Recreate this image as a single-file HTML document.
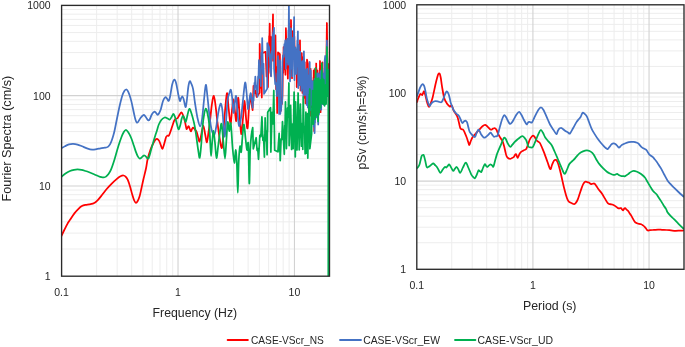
<!DOCTYPE html>
<html lang="en">
<head>
<meta charset="utf-8">
<title>Fourier spectra and pSv</title>
<style>
html,body{margin:0;padding:0;background:#ffffff;}
body{width:685px;height:347px;overflow:hidden;font-family:"Liberation Sans",sans-serif;}
svg{display:block;will-change:transform;}
text{font-family:"Liberation Sans",sans-serif;}
</style>
</head>
<body>
<svg width="685" height="347" viewBox="0 0 685 347" font-family="Liberation Sans, sans-serif">
<defs>
<clipPath id="clipL"><rect x="61.6" y="5.4" width="267.90" height="270.80"/></clipPath>
<clipPath id="clipR"><rect x="416.8" y="4.8" width="267.20" height="264.50"/></clipPath>
</defs>
<rect width="685" height="347" fill="#ffffff"/>
<line x1="96.65" x2="96.65" y1="5.40" y2="276.20" stroke="#ededed" stroke-width="1"/>
<line x1="117.15" x2="117.15" y1="5.40" y2="276.20" stroke="#ededed" stroke-width="1"/>
<line x1="131.70" x2="131.70" y1="5.40" y2="276.20" stroke="#ededed" stroke-width="1"/>
<line x1="142.98" x2="142.98" y1="5.40" y2="276.20" stroke="#ededed" stroke-width="1"/>
<line x1="152.20" x2="152.20" y1="5.40" y2="276.20" stroke="#ededed" stroke-width="1"/>
<line x1="159.99" x2="159.99" y1="5.40" y2="276.20" stroke="#ededed" stroke-width="1"/>
<line x1="166.74" x2="166.74" y1="5.40" y2="276.20" stroke="#ededed" stroke-width="1"/>
<line x1="172.70" x2="172.70" y1="5.40" y2="276.20" stroke="#ededed" stroke-width="1"/>
<line x1="213.07" x2="213.07" y1="5.40" y2="276.20" stroke="#ededed" stroke-width="1"/>
<line x1="233.58" x2="233.58" y1="5.40" y2="276.20" stroke="#ededed" stroke-width="1"/>
<line x1="248.12" x2="248.12" y1="5.40" y2="276.20" stroke="#ededed" stroke-width="1"/>
<line x1="259.40" x2="259.40" y1="5.40" y2="276.20" stroke="#ededed" stroke-width="1"/>
<line x1="268.62" x2="268.62" y1="5.40" y2="276.20" stroke="#ededed" stroke-width="1"/>
<line x1="276.42" x2="276.42" y1="5.40" y2="276.20" stroke="#ededed" stroke-width="1"/>
<line x1="283.17" x2="283.17" y1="5.40" y2="276.20" stroke="#ededed" stroke-width="1"/>
<line x1="289.12" x2="289.12" y1="5.40" y2="276.20" stroke="#ededed" stroke-width="1"/>
<line x1="61.60" x2="329.50" y1="249.03" y2="249.03" stroke="#ededed" stroke-width="1"/>
<line x1="61.60" x2="329.50" y1="233.13" y2="233.13" stroke="#ededed" stroke-width="1"/>
<line x1="61.60" x2="329.50" y1="221.85" y2="221.85" stroke="#ededed" stroke-width="1"/>
<line x1="61.60" x2="329.50" y1="213.11" y2="213.11" stroke="#ededed" stroke-width="1"/>
<line x1="61.60" x2="329.50" y1="205.96" y2="205.96" stroke="#ededed" stroke-width="1"/>
<line x1="61.60" x2="329.50" y1="199.92" y2="199.92" stroke="#ededed" stroke-width="1"/>
<line x1="61.60" x2="329.50" y1="194.68" y2="194.68" stroke="#ededed" stroke-width="1"/>
<line x1="61.60" x2="329.50" y1="190.06" y2="190.06" stroke="#ededed" stroke-width="1"/>
<line x1="61.60" x2="329.50" y1="158.76" y2="158.76" stroke="#ededed" stroke-width="1"/>
<line x1="61.60" x2="329.50" y1="142.87" y2="142.87" stroke="#ededed" stroke-width="1"/>
<line x1="61.60" x2="329.50" y1="131.59" y2="131.59" stroke="#ededed" stroke-width="1"/>
<line x1="61.60" x2="329.50" y1="122.84" y2="122.84" stroke="#ededed" stroke-width="1"/>
<line x1="61.60" x2="329.50" y1="115.69" y2="115.69" stroke="#ededed" stroke-width="1"/>
<line x1="61.60" x2="329.50" y1="109.65" y2="109.65" stroke="#ededed" stroke-width="1"/>
<line x1="61.60" x2="329.50" y1="104.41" y2="104.41" stroke="#ededed" stroke-width="1"/>
<line x1="61.60" x2="329.50" y1="99.80" y2="99.80" stroke="#ededed" stroke-width="1"/>
<line x1="61.60" x2="329.50" y1="68.49" y2="68.49" stroke="#ededed" stroke-width="1"/>
<line x1="61.60" x2="329.50" y1="52.60" y2="52.60" stroke="#ededed" stroke-width="1"/>
<line x1="61.60" x2="329.50" y1="41.32" y2="41.32" stroke="#ededed" stroke-width="1"/>
<line x1="61.60" x2="329.50" y1="32.57" y2="32.57" stroke="#ededed" stroke-width="1"/>
<line x1="61.60" x2="329.50" y1="25.43" y2="25.43" stroke="#ededed" stroke-width="1"/>
<line x1="61.60" x2="329.50" y1="19.38" y2="19.38" stroke="#ededed" stroke-width="1"/>
<line x1="61.60" x2="329.50" y1="14.15" y2="14.15" stroke="#ededed" stroke-width="1"/>
<line x1="61.60" x2="329.50" y1="9.53" y2="9.53" stroke="#ededed" stroke-width="1"/>
<line x1="178.03" x2="178.03" y1="5.40" y2="276.20" stroke="#d2d2d2" stroke-width="1.1"/>
<line x1="294.45" x2="294.45" y1="5.40" y2="276.20" stroke="#d2d2d2" stroke-width="1.1"/>
<line x1="61.60" x2="329.50" y1="185.93" y2="185.93" stroke="#d2d2d2" stroke-width="1.1"/>
<line x1="61.60" x2="329.50" y1="95.67" y2="95.67" stroke="#d2d2d2" stroke-width="1.1"/>
<line x1="451.76" x2="451.76" y1="4.80" y2="269.30" stroke="#ededed" stroke-width="1"/>
<line x1="472.20" x2="472.20" y1="4.80" y2="269.30" stroke="#ededed" stroke-width="1"/>
<line x1="486.71" x2="486.71" y1="4.80" y2="269.30" stroke="#ededed" stroke-width="1"/>
<line x1="497.97" x2="497.97" y1="4.80" y2="269.30" stroke="#ededed" stroke-width="1"/>
<line x1="507.16" x2="507.16" y1="4.80" y2="269.30" stroke="#ededed" stroke-width="1"/>
<line x1="514.93" x2="514.93" y1="4.80" y2="269.30" stroke="#ededed" stroke-width="1"/>
<line x1="521.67" x2="521.67" y1="4.80" y2="269.30" stroke="#ededed" stroke-width="1"/>
<line x1="527.61" x2="527.61" y1="4.80" y2="269.30" stroke="#ededed" stroke-width="1"/>
<line x1="567.88" x2="567.88" y1="4.80" y2="269.30" stroke="#ededed" stroke-width="1"/>
<line x1="588.33" x2="588.33" y1="4.80" y2="269.30" stroke="#ededed" stroke-width="1"/>
<line x1="602.83" x2="602.83" y1="4.80" y2="269.30" stroke="#ededed" stroke-width="1"/>
<line x1="614.09" x2="614.09" y1="4.80" y2="269.30" stroke="#ededed" stroke-width="1"/>
<line x1="623.28" x2="623.28" y1="4.80" y2="269.30" stroke="#ededed" stroke-width="1"/>
<line x1="631.06" x2="631.06" y1="4.80" y2="269.30" stroke="#ededed" stroke-width="1"/>
<line x1="637.79" x2="637.79" y1="4.80" y2="269.30" stroke="#ededed" stroke-width="1"/>
<line x1="643.73" x2="643.73" y1="4.80" y2="269.30" stroke="#ededed" stroke-width="1"/>
<line x1="416.80" x2="684.00" y1="242.76" y2="242.76" stroke="#ededed" stroke-width="1"/>
<line x1="416.80" x2="684.00" y1="227.23" y2="227.23" stroke="#ededed" stroke-width="1"/>
<line x1="416.80" x2="684.00" y1="216.22" y2="216.22" stroke="#ededed" stroke-width="1"/>
<line x1="416.80" x2="684.00" y1="207.67" y2="207.67" stroke="#ededed" stroke-width="1"/>
<line x1="416.80" x2="684.00" y1="200.69" y2="200.69" stroke="#ededed" stroke-width="1"/>
<line x1="416.80" x2="684.00" y1="194.79" y2="194.79" stroke="#ededed" stroke-width="1"/>
<line x1="416.80" x2="684.00" y1="189.68" y2="189.68" stroke="#ededed" stroke-width="1"/>
<line x1="416.80" x2="684.00" y1="185.17" y2="185.17" stroke="#ededed" stroke-width="1"/>
<line x1="416.80" x2="684.00" y1="154.59" y2="154.59" stroke="#ededed" stroke-width="1"/>
<line x1="416.80" x2="684.00" y1="139.07" y2="139.07" stroke="#ededed" stroke-width="1"/>
<line x1="416.80" x2="684.00" y1="128.05" y2="128.05" stroke="#ededed" stroke-width="1"/>
<line x1="416.80" x2="684.00" y1="119.51" y2="119.51" stroke="#ededed" stroke-width="1"/>
<line x1="416.80" x2="684.00" y1="112.53" y2="112.53" stroke="#ededed" stroke-width="1"/>
<line x1="416.80" x2="684.00" y1="106.62" y2="106.62" stroke="#ededed" stroke-width="1"/>
<line x1="416.80" x2="684.00" y1="101.51" y2="101.51" stroke="#ededed" stroke-width="1"/>
<line x1="416.80" x2="684.00" y1="97.00" y2="97.00" stroke="#ededed" stroke-width="1"/>
<line x1="416.80" x2="684.00" y1="66.43" y2="66.43" stroke="#ededed" stroke-width="1"/>
<line x1="416.80" x2="684.00" y1="50.90" y2="50.90" stroke="#ededed" stroke-width="1"/>
<line x1="416.80" x2="684.00" y1="39.89" y2="39.89" stroke="#ededed" stroke-width="1"/>
<line x1="416.80" x2="684.00" y1="31.34" y2="31.34" stroke="#ededed" stroke-width="1"/>
<line x1="416.80" x2="684.00" y1="24.36" y2="24.36" stroke="#ededed" stroke-width="1"/>
<line x1="416.80" x2="684.00" y1="18.46" y2="18.46" stroke="#ededed" stroke-width="1"/>
<line x1="416.80" x2="684.00" y1="13.34" y2="13.34" stroke="#ededed" stroke-width="1"/>
<line x1="416.80" x2="684.00" y1="8.83" y2="8.83" stroke="#ededed" stroke-width="1"/>
<line x1="532.92" x2="532.92" y1="4.80" y2="269.30" stroke="#d2d2d2" stroke-width="1.1"/>
<line x1="649.04" x2="649.04" y1="4.80" y2="269.30" stroke="#d2d2d2" stroke-width="1.1"/>
<line x1="416.80" x2="684.00" y1="181.13" y2="181.13" stroke="#d2d2d2" stroke-width="1.1"/>
<line x1="416.80" x2="684.00" y1="92.97" y2="92.97" stroke="#d2d2d2" stroke-width="1.1"/>
<g clip-path="url(#clipL)">
<path d="M61.50,235.80 C61.97,234.83 63.33,231.95 64.30,230.00 C65.27,228.05 66.32,225.83 67.30,224.10 C68.28,222.37 68.98,221.43 70.20,219.60 C71.42,217.77 73.22,214.90 74.60,213.10 C75.98,211.30 77.28,209.97 78.50,208.80 C79.72,207.63 80.73,206.75 81.90,206.10 C83.07,205.45 84.28,205.18 85.50,204.90 C86.72,204.62 87.98,204.62 89.20,204.40 C90.42,204.18 91.75,203.97 92.80,203.60 C93.85,203.23 94.63,202.82 95.50,202.20 C96.37,201.58 96.92,201.10 98.00,199.90 C99.08,198.70 100.55,196.82 102.00,195.00 C103.45,193.18 105.12,190.87 106.70,189.00 C108.28,187.13 109.80,185.50 111.50,183.80 C113.20,182.10 115.40,180.05 116.90,178.80 C118.40,177.55 119.40,176.85 120.50,176.30 C121.60,175.75 122.62,175.42 123.50,175.50 C124.38,175.58 125.07,176.02 125.80,176.80 C126.53,177.58 127.17,178.50 127.90,180.20 C128.63,181.90 129.47,184.57 130.20,187.00 C130.93,189.43 131.63,192.55 132.30,194.80 C132.97,197.05 133.60,199.17 134.20,200.50 C134.80,201.83 135.32,202.72 135.90,202.80 C136.48,202.88 137.08,202.08 137.70,201.00 C138.32,199.92 138.98,198.38 139.60,196.30 C140.22,194.22 140.80,191.18 141.40,188.50 C142.00,185.82 142.42,183.62 143.20,180.20 C143.98,176.78 145.37,171.50 146.10,168.00 C146.83,164.50 146.87,162.28 147.60,159.20 C148.33,156.12 149.53,152.18 150.50,149.50 C151.47,146.82 152.60,144.70 153.40,143.10 C154.20,141.50 154.68,140.62 155.30,139.90 C155.92,139.18 156.48,138.68 157.10,138.80 C157.72,138.92 158.42,139.65 159.00,140.60 C159.58,141.55 160.03,143.12 160.60,144.50 C161.17,145.88 161.78,149.07 162.40,148.90 C163.02,148.73 163.68,145.48 164.30,143.50 C164.92,141.52 165.55,138.32 166.10,137.00 C166.65,135.68 167.12,135.87 167.60,135.60 C168.08,135.33 168.35,136.58 169.00,135.40 C169.65,134.22 170.65,130.93 171.50,128.50 C172.35,126.07 173.35,122.42 174.10,120.80 C174.85,119.18 175.40,119.27 176.00,118.80 C176.60,118.33 177.10,118.67 177.70,118.00 C178.30,117.33 178.98,115.73 179.60,114.80 C180.22,113.87 180.80,112.28 181.40,112.40 C182.00,112.52 182.60,113.92 183.20,115.50 C183.80,117.08 184.45,119.68 185.00,121.90 C185.55,124.12 186.07,127.87 186.50,128.80 C186.93,129.73 187.23,127.92 187.60,127.50 C187.97,127.08 188.33,126.05 188.70,126.30 C189.07,126.55 189.43,128.15 189.80,129.00 C190.17,129.85 190.53,131.40 190.90,131.40 C191.27,131.40 191.63,129.62 192.00,129.00 C192.37,128.38 192.62,127.60 193.10,127.70 C193.58,127.80 194.30,128.87 194.90,129.60 C195.50,130.33 196.15,130.80 196.70,132.10 C197.25,133.40 197.72,135.82 198.20,137.40 C198.68,138.98 199.07,142.17 199.60,141.60 C200.13,141.03 200.78,136.68 201.40,134.00 C202.02,131.32 202.68,125.50 203.30,125.50 C203.92,125.50 204.50,131.20 205.10,134.00 C205.70,136.80 206.35,142.47 206.90,142.30 C207.45,142.13 207.90,136.32 208.40,133.00 C208.90,129.68 209.33,127.07 209.90,122.40 C210.47,117.73 211.15,109.43 211.80,105.00 C212.45,100.57 213.17,95.63 213.80,95.80 C214.43,95.97 215.00,101.63 215.60,106.00 C216.20,110.37 216.73,116.67 217.40,122.00 C218.07,127.33 218.82,133.77 219.60,138.00 C220.38,142.23 221.32,150.40 222.10,147.40 C222.88,144.40 223.50,129.02 224.30,120.00 C225.10,110.98 226.18,95.30 226.90,93.30 C227.62,91.30 228.00,102.88 228.60,108.00 C229.20,113.12 229.93,123.67 230.50,124.00 C231.07,124.33 231.50,114.08 232.00,110.00 C232.50,105.92 233.00,99.17 233.50,99.50 C234.00,99.83 234.55,108.42 235.00,112.00 C235.45,115.58 235.82,121.67 236.20,121.00 C236.58,120.33 236.95,111.87 237.30,108.00 C237.65,104.13 237.92,96.63 238.30,97.80 C238.68,98.97 239.12,108.97 239.60,115.00 C240.08,121.03 240.63,133.50 241.20,134.00 C241.77,134.50 242.43,123.50 243.00,118.00 C243.57,112.50 244.07,100.67 244.60,101.00 C245.13,101.33 245.70,115.50 246.20,120.00 C246.70,124.50 247.13,130.00 247.60,128.00 C248.07,126.00 248.55,113.33 249.00,108.00 C249.45,102.67 249.87,96.67 250.30,96.00 C250.73,95.33 251.22,101.63 251.60,104.00 C251.98,106.37 252.43,109.17 252.60,110.20 L253.50,85.84 L254.74,93.42 L255.67,90.54 L256.60,97.00 L259.55,92.70 L259.70,43.90 L260.12,60.98 L260.44,56.30 L261.17,87.89 L261.49,82.99 L261.80,97.50 L261.92,53.06 L265.63,51.82 L266.56,76.42 L267.26,65.93 L267.96,87.02 L268.31,66.15 L268.57,73.07 L269.18,36.10 L269.44,39.79 L269.70,23.70 L269.93,39.69 L270.10,36.26 L270.51,67.19 L270.68,60.66 L270.85,75.60 L271.71,37.12 L272.36,46.65 L273.00,14.30 L273.15,60.87 L273.60,52.72 L273.94,55.01 L274.72,40.21 L275.06,42.05 L275.40,35.40 L276.12,89.22 L276.66,66.94 L277.20,113.00 L277.52,75.17 L277.76,84.21 L278.00,52.44 L279.90,54.20 L280.08,73.64 L280.21,66.00 L280.53,99.79 L280.67,96.65 L280.80,111.00 L281.45,100.92 L281.94,104.07 L282.43,95.54 L282.90,65.19 L283.25,72.71 L283.60,47.20 L283.97,56.14 L284.25,53.41 L284.90,69.47 L285.18,67.64 L285.45,74.75 L285.90,28.20 L286.29,43.58 L286.59,40.52 L287.27,68.18 L287.57,66.29 L287.86,78.57 L288.16,61.25 L288.39,67.48 L288.92,35.63 L289.15,41.47 L289.38,26.93 L289.69,58.77 L289.92,46.44 L290.15,73.61 L290.32,57.98 L290.45,59.75 L290.75,28.36 L290.87,35.76 L291.00,20.00 L291.41,53.18 L291.71,50.80 L292.02,78.17 L292.17,64.03 L292.29,66.49 L292.56,38.64 L292.67,44.94 L292.79,31.23 L293.09,49.40 L293.31,43.49 L293.54,58.90 L293.69,51.39 L293.81,54.14 L294.09,41.42 L294.21,41.80 L294.33,36.59 L294.52,47.45 L294.66,45.93 L295.00,65.63 L295.15,64.46 L295.29,73.31 L295.57,66.14 L295.79,67.49 L296.28,54.09 L296.49,55.93 L296.70,49.70 L296.74,87.04 L296.90,78.26 L297.02,79.67 L297.30,62.46 L297.42,66.11 L297.54,57.68 L297.77,66.33 L297.94,63.01 L298.34,77.46 L298.51,77.31 L298.68,83.11 L298.95,69.50 L299.14,73.17 L299.60,48.94 L299.80,50.92 L300.00,40.30 L300.22,72.72 L300.39,63.07 L300.55,90.48 L300.79,78.94 L300.97,81.49 L301.38,61.48 L301.56,61.62 L301.74,53.15 L301.88,64.82 L301.99,63.40 L302.25,84.45 L302.35,83.61 L302.46,92.99 L302.76,67.91 L302.98,78.52 L303.20,57.04 L303.44,82.28 L303.62,76.80 L303.80,97.94 L303.98,85.61 L304.11,90.72 L304.42,68.56 L304.56,72.21 L304.69,62.38 L305.01,89.98 L305.25,79.85 L305.48,103.36 L306.95,93.56 L307.00,59.70 L307.91,63.75 L308.03,77.49 L308.12,73.99 L308.33,97.67 L308.42,97.44 L308.51,107.37 L308.75,90.23 L308.93,92.60 L309.11,78.36 L309.30,90.18 L309.44,87.14 L309.78,110.06 L309.92,104.74 L310.06,115.83 L310.27,87.23 L310.43,92.77 L310.59,68.87 L310.98,90.42 L311.27,89.42 L311.56,107.14 L311.68,99.80 L311.77,100.30 L311.97,86.29 L312.06,88.05 L312.15,81.37 L312.45,99.36 L312.68,96.01 L312.91,111.03 L313.07,98.42 L313.19,101.25 L313.47,77.50 L313.59,81.48 L313.71,70.34 L314.20,131.00 L314.52,90.14 L314.76,103.58 L315.00,68.93 L315.35,87.10 L315.60,85.10 L315.86,100.14 L316.20,63.50 L316.47,89.87 L316.67,78.77 L316.87,101.35 L317.00,92.24 L317.10,93.45 L317.34,75.72 L317.44,79.05 L317.54,70.43 L317.77,98.04 L317.95,93.25 L318.12,116.28 L318.40,93.78 L318.61,94.23 L318.82,75.78 L318.95,82.56 L319.05,80.79 L319.28,93.63 L319.38,91.16 L319.48,97.22 L319.58,84.76 L319.66,89.76 L319.84,68.56 L319.92,69.74 L320.00,61.00 L320.23,92.41 L320.40,85.83 L320.57,112.12 L320.84,85.46 L321.03,87.86 L321.23,65.83 L321.37,77.52 L321.47,73.83 L321.71,96.04 L321.82,91.12 L321.92,101.64 L322.03,90.38 L322.12,91.26 L322.33,69.63 L322.41,72.67 L322.50,62.30 L322.60,76.57 L322.68,70.72 L322.85,95.79 L322.93,92.75 L323.00,103.55 L323.27,84.79 L323.46,91.21 L323.66,75.28 L323.80,83.86 L323.91,81.70 L324.17,97.02 L324.27,95.83 L324.38,102.57 L324.67,86.71 L324.88,90.67 L325.10,77.34 L326.00,92.00 L326.90,23.00 L327.70,84.00 L328.40,64.00 L329.00,120.00" fill="none" stroke="#ff0000" stroke-width="1.75" stroke-linejoin="round" stroke-linecap="round"/>
<path d="M61.50,148.20 C62.08,147.87 63.75,146.83 65.00,146.20 C66.25,145.57 67.65,144.78 69.00,144.40 C70.35,144.02 71.68,143.87 73.10,143.90 C74.52,143.93 76.02,144.20 77.50,144.60 C78.98,145.00 80.42,145.67 82.00,146.30 C83.58,146.93 85.32,147.83 87.00,148.40 C88.68,148.97 90.52,149.57 92.10,149.70 C93.68,149.83 95.10,149.43 96.50,149.20 C97.90,148.97 99.28,148.53 100.50,148.30 C101.72,148.07 102.85,147.93 103.80,147.80 C104.75,147.67 105.47,147.70 106.20,147.50 C106.93,147.30 107.57,147.12 108.20,146.60 C108.83,146.08 109.40,145.47 110.00,144.40 C110.60,143.33 111.25,141.68 111.80,140.20 C112.35,138.72 112.82,137.20 113.30,135.50 C113.78,133.80 114.05,133.00 114.70,130.00 C115.35,127.00 116.33,121.70 117.20,117.50 C118.07,113.30 119.02,108.55 119.90,104.80 C120.78,101.05 121.73,97.33 122.50,95.00 C123.27,92.67 123.92,91.72 124.50,90.80 C125.08,89.88 125.48,89.53 126.00,89.50 C126.52,89.47 127.02,89.68 127.60,90.60 C128.18,91.52 128.85,93.12 129.50,95.00 C130.15,96.88 130.75,98.82 131.50,101.90 C132.25,104.98 133.33,110.52 134.00,113.50 C134.67,116.48 135.03,118.28 135.50,119.80 C135.97,121.32 136.35,122.27 136.80,122.60 C137.25,122.93 137.58,122.57 138.20,121.80 C138.82,121.03 139.62,119.13 140.50,118.00 C141.38,116.87 142.75,115.37 143.50,115.00 C144.25,114.63 144.45,115.20 145.00,115.80 C145.55,116.40 146.25,117.83 146.80,118.60 C147.35,119.37 147.80,120.30 148.30,120.40 C148.80,120.50 149.22,120.18 149.80,119.20 C150.38,118.22 151.07,115.75 151.80,114.50 C152.53,113.25 153.50,111.98 154.20,111.70 C154.90,111.42 155.43,112.28 156.00,112.80 C156.57,113.32 157.07,114.77 157.60,114.80 C158.13,114.83 158.65,113.97 159.20,113.00 C159.75,112.03 160.27,111.00 160.90,109.00 C161.53,107.00 162.27,102.97 163.00,101.00 C163.73,99.03 164.63,97.60 165.30,97.20 C165.97,96.80 166.43,97.98 167.00,98.60 C167.57,99.22 168.17,101.33 168.70,100.90 C169.23,100.47 169.62,98.73 170.20,96.00 C170.78,93.27 171.50,87.22 172.20,84.50 C172.90,81.78 173.73,79.87 174.40,79.70 C175.07,79.53 175.57,81.12 176.20,83.50 C176.83,85.88 177.58,91.10 178.20,94.00 C178.82,96.90 179.40,100.23 179.90,100.90 C180.40,101.57 180.78,98.73 181.20,98.00 C181.62,97.27 182.00,96.33 182.40,96.50 C182.80,96.67 183.20,97.67 183.60,99.00 C184.00,100.33 184.43,103.17 184.80,104.50 C185.17,105.83 185.43,107.92 185.80,107.00 C186.17,106.08 186.58,102.33 187.00,99.00 C187.42,95.67 187.85,89.97 188.30,87.00 C188.75,84.03 189.22,81.78 189.70,81.20 C190.18,80.62 190.63,82.17 191.20,83.50 C191.77,84.83 192.47,85.95 193.10,89.20 C193.73,92.45 194.27,98.20 195.00,103.00 C195.73,107.80 196.63,114.12 197.50,118.00 C198.37,121.88 199.42,126.30 200.20,126.30 C200.98,126.30 201.57,122.38 202.20,118.00 C202.83,113.62 203.40,105.53 204.00,100.00 C204.60,94.47 205.22,85.30 205.80,84.80 C206.38,84.30 206.88,91.80 207.50,97.00 C208.12,102.20 208.83,110.63 209.50,116.00 C210.17,121.37 210.72,126.03 211.50,129.20 C212.28,132.37 213.42,135.37 214.20,135.00 C214.98,134.63 215.57,130.40 216.20,127.00 C216.83,123.60 217.43,118.02 218.00,114.60 C218.57,111.18 219.08,108.30 219.60,106.50 C220.12,104.70 220.60,102.88 221.10,103.80 C221.60,104.72 222.03,106.55 222.60,112.00 C223.17,117.45 223.93,134.83 224.50,136.50 C225.07,138.17 225.48,128.08 226.00,122.00 C226.52,115.92 227.03,104.83 227.60,100.00 C228.17,95.17 228.85,94.68 229.40,93.00 C229.95,91.32 230.43,89.07 230.90,89.90 C231.37,90.73 231.77,94.17 232.20,98.00 C232.63,101.83 233.07,112.07 233.50,112.90 C233.93,113.73 234.37,105.82 234.80,103.00 C235.23,100.18 235.67,94.83 236.10,96.00 C236.53,97.17 236.92,105.00 237.40,110.00 C237.88,115.00 238.40,124.67 239.00,126.00 C239.60,127.33 240.33,122.33 241.00,118.00 C241.67,113.67 242.32,105.90 243.00,100.00 C243.68,94.10 244.50,83.77 245.10,82.60 C245.70,81.43 246.12,88.62 246.60,93.00 C247.08,97.38 247.55,107.57 248.00,108.90 C248.45,110.23 248.87,103.63 249.30,101.00 C249.73,98.37 250.18,93.27 250.60,93.10 C251.02,92.93 251.60,98.85 251.80,100.00 L252.60,107.77 L253.15,97.78 L253.55,100.63 L254.51,82.78 L254.92,84.46 L255.33,76.61 L256.20,89.62 L256.85,85.83 L257.50,96.82 L258.08,76.45 L258.52,76.91 L258.95,60.20 L259.69,77.98 L260.24,70.90 L260.78,86.09 L261.35,52.67 L261.78,66.83 L262.20,38.20 L262.95,73.95 L263.51,63.74 L264.07,93.91 L267.22,88.57 L267.30,43.10 L269.01,47.06 L269.43,56.35 L269.74,53.85 L270.46,71.40 L270.77,68.02 L271.08,76.28 L271.63,51.37 L272.04,58.41 L272.45,37.39 L274.00,27.80 L274.07,68.54 L275.22,84.29 L276.07,83.17 L276.93,96.16 L277.35,73.21 L277.66,75.13 L277.98,56.18 L278.44,89.75 L278.78,86.18 L279.13,113.97 L279.32,95.24 L279.46,103.22 L279.79,69.39 L279.93,75.48 L280.07,60.38 L280.30,114.00 L280.68,109.45 L280.97,110.85 L281.63,102.59 L281.91,103.71 L282.20,100.00 L282.44,62.17 L283.01,55.41 L283.44,56.91 L284.44,44.14 L284.87,46.30 L285.30,40.30 L285.54,57.48 L285.72,54.43 L285.90,68.76 L286.15,58.66 L286.35,62.40 L286.80,45.47 L286.99,45.65 L287.18,38.83 L287.36,46.62 L287.50,45.26 L287.81,59.28 L287.95,58.46 L288.08,64.69 L288.41,30.33 L288.65,34.06 L288.90,5.60 L289.13,28.83 L289.30,24.02 L289.70,64.52 L289.87,64.06 L290.04,81.33 L290.23,64.88 L290.38,68.63 L290.72,39.61 L290.87,40.89 L291.02,28.33 L291.26,42.81 L291.45,40.18 L291.88,68.87 L292.07,62.01 L292.25,76.22 L292.99,37.75 L293.55,49.65 L294.10,17.10 L294.45,80.10 L294.79,60.22 L295.05,64.12 L295.30,47.50 L295.47,55.89 L295.60,53.61 L295.90,69.85 L296.03,66.02 L296.16,73.87 L296.51,59.56 L296.77,64.76 L297.38,40.30 L297.64,41.46 L297.90,31.30 L298.23,88.05 L298.49,60.20 L298.68,68.70 L298.87,45.14 L299.01,59.12 L299.11,53.22 L299.34,77.59 L299.44,74.85 L299.54,85.25 L299.83,64.96 L300.04,68.88 L300.26,51.93 L300.47,63.32 L300.64,61.84 L301.02,84.10 L301.18,79.81 L301.34,90.67 L301.55,81.68 L301.71,83.41 L302.08,65.61 L302.24,69.93 L302.40,61.12 L302.61,72.56 L302.76,68.81 L303.13,88.43 L303.28,87.68 L303.44,95.87 L303.90,51.30 L304.16,65.09 L304.36,61.54 L304.81,85.56 L305.01,84.76 L305.20,94.99 L305.49,79.63 L305.71,82.81 L305.92,69.95 L306.24,94.34 L306.48,84.06 L306.71,104.95 L306.82,94.65 L306.90,95.29 L307.09,76.76 L307.18,76.86 L307.26,68.64 L307.52,93.11 L307.72,86.92 L307.91,107.50 L308.15,85.78 L308.33,93.97 L308.52,75.45 L308.62,86.05 L308.69,84.60 L308.87,104.04 L308.95,102.51 L309.03,111.36 L309.16,94.41 L309.26,101.16 L309.50,69.63 L309.60,76.58 L309.70,62.00 L309.82,76.48 L309.91,74.04 L310.12,102.04 L310.21,96.70 L310.30,110.22 L310.76,70.53 L311.09,89.95 L311.34,89.29 L311.59,105.23 L311.80,89.62 L311.96,94.42 L312.13,81.21 L312.33,105.78 L312.49,97.94 L312.64,118.75 L313.12,81.55 L313.25,94.29 L313.34,93.54 L313.57,119.18 L313.67,113.60 L313.77,126.50 L314.04,94.32 L314.24,106.19 L314.44,78.78 L314.60,133.00 L314.84,115.68 L315.02,122.85 L315.44,91.93 L315.62,96.67 L315.80,83.07 L315.92,93.22 L316.02,91.82 L316.24,111.18 L316.33,108.23 L316.42,117.44 L316.69,87.45 L316.89,99.01 L317.09,73.43 L317.53,108.57 L317.87,94.46 L318.20,124.50 L318.42,73.40 L318.64,97.07 L318.80,94.90 L318.97,114.46 L319.20,90.08 L319.37,95.81 L319.54,75.34 L320.03,108.55 L320.49,71.10 L320.77,95.76 L320.99,88.82 L321.20,109.63 L321.31,96.21 L321.39,100.81 L321.58,76.58 L321.67,80.03 L321.75,69.22 L321.87,80.74 L321.95,76.62 L322.16,97.53 L322.24,94.25 L322.33,103.63 L322.79,76.61 L323.24,104.24 L323.61,73.36 L324.06,104.95 L324.19,92.68 L324.29,92.74 L324.52,68.81 L324.62,72.13 L324.72,60.46 L325.20,56.00 L325.90,96.00 L326.90,40.50 L327.80,92.00 L328.50,70.00 L329.00,120.00" fill="none" stroke="#4472c4" stroke-width="1.75" stroke-linejoin="round" stroke-linecap="round"/>
<path d="M61.50,176.70 C62.17,176.18 64.08,174.55 65.50,173.60 C66.92,172.65 68.58,171.63 70.00,171.00 C71.42,170.37 72.75,170.07 74.00,169.80 C75.25,169.53 76.25,169.40 77.50,169.40 C78.75,169.40 80.17,169.53 81.50,169.80 C82.83,170.07 84.22,170.58 85.50,171.00 C86.78,171.42 87.78,171.77 89.20,172.30 C90.62,172.83 92.45,173.55 94.00,174.20 C95.55,174.85 97.25,175.70 98.50,176.20 C99.75,176.70 100.62,177.00 101.50,177.20 C102.38,177.40 103.05,177.50 103.80,177.40 C104.55,177.30 105.22,177.17 106.00,176.60 C106.78,176.03 107.65,175.20 108.50,174.00 C109.35,172.80 110.10,171.82 111.10,169.40 C112.10,166.98 113.28,163.40 114.50,159.50 C115.72,155.60 117.23,149.75 118.40,146.00 C119.57,142.25 120.60,139.33 121.50,137.00 C122.40,134.67 123.10,133.17 123.80,132.00 C124.50,130.83 125.08,130.13 125.70,130.00 C126.32,129.87 126.87,130.47 127.50,131.20 C128.13,131.93 128.83,133.13 129.50,134.40 C130.17,135.67 130.78,136.95 131.50,138.80 C132.22,140.65 133.07,143.32 133.80,145.50 C134.53,147.68 135.23,150.08 135.90,151.90 C136.57,153.72 137.18,155.30 137.80,156.40 C138.42,157.50 139.03,158.25 139.60,158.50 C140.17,158.75 140.67,158.28 141.20,157.90 C141.73,157.52 142.27,156.60 142.80,156.20 C143.33,155.80 143.87,155.43 144.40,155.50 C144.93,155.57 145.50,156.13 146.00,156.60 C146.50,157.07 146.97,158.02 147.40,158.30 C147.83,158.58 148.17,159.02 148.60,158.30 C149.03,157.58 149.50,155.72 150.00,154.00 C150.50,152.28 151.03,150.05 151.60,148.00 C152.17,145.95 152.78,143.78 153.40,141.70 C154.02,139.62 154.68,137.45 155.30,135.50 C155.92,133.55 156.52,131.83 157.10,130.00 C157.68,128.17 158.07,126.20 158.80,124.50 C159.53,122.80 160.53,120.97 161.50,119.80 C162.47,118.63 163.65,117.77 164.60,117.50 C165.55,117.23 166.35,117.83 167.20,118.20 C168.05,118.57 168.97,119.90 169.70,119.70 C170.43,119.50 170.98,117.97 171.60,117.00 C172.22,116.03 172.83,113.90 173.40,113.90 C173.97,113.90 174.43,115.40 175.00,117.00 C175.57,118.60 176.22,121.47 176.80,123.50 C177.38,125.53 177.93,128.87 178.50,129.20 C179.07,129.53 179.68,127.20 180.20,125.50 C180.72,123.80 181.17,120.58 181.60,119.00 C182.03,117.42 182.35,116.17 182.80,116.00 C183.25,115.83 183.80,117.02 184.30,118.00 C184.80,118.98 185.27,122.40 185.80,121.90 C186.33,121.40 186.90,117.18 187.50,115.00 C188.10,112.82 188.73,109.05 189.40,108.80 C190.07,108.55 190.77,111.32 191.50,113.50 C192.23,115.68 193.15,119.15 193.80,121.90 C194.45,124.65 194.92,127.08 195.40,130.00 C195.88,132.92 196.23,136.07 196.70,139.40 C197.17,142.73 197.70,146.95 198.20,150.00 C198.70,153.05 199.20,158.53 199.70,157.70 C200.20,156.87 200.72,150.23 201.20,145.00 C201.68,139.77 202.10,131.47 202.60,126.30 C203.10,121.13 203.67,116.93 204.20,114.00 C204.73,111.07 205.27,108.87 205.80,108.70 C206.33,108.53 206.85,110.53 207.40,113.00 C207.95,115.47 208.63,118.67 209.10,123.50 C209.57,128.33 209.87,136.58 210.20,142.00 C210.53,147.42 210.77,156.00 211.10,156.00 C211.43,156.00 211.80,146.18 212.20,142.00 C212.60,137.82 213.03,130.73 213.50,130.90 C213.97,131.07 214.50,138.48 215.00,143.00 C215.50,147.52 215.95,157.67 216.50,158.00 C217.05,158.33 217.68,149.67 218.30,145.00 C218.92,140.33 219.65,133.50 220.20,130.00 C220.75,126.50 221.10,122.33 221.60,124.00 C222.10,125.67 222.63,134.25 223.20,140.00 C223.77,145.75 224.47,158.50 225.00,158.50 C225.53,158.50 225.95,146.08 226.40,140.00 C226.85,133.92 227.23,123.50 227.70,122.00 C228.17,120.50 228.68,130.75 229.20,131.00 C229.72,131.25 230.23,120.67 230.80,123.50 C231.37,126.33 232.00,141.45 232.60,148.00 C233.20,154.55 233.90,162.47 234.40,162.80 C234.90,163.13 235.20,150.13 235.60,150.00 C236.00,149.87 236.43,154.88 236.80,162.00 C237.17,169.12 237.48,192.70 237.80,192.70 C238.12,192.70 238.33,169.72 238.70,162.00 C239.07,154.28 239.58,148.07 240.00,146.40 C240.42,144.73 240.77,153.90 241.20,152.00 C241.63,150.10 242.13,139.58 242.60,135.00 C243.07,130.42 243.52,124.00 244.00,124.50 C244.48,125.00 245.00,133.75 245.50,138.00 C246.00,142.25 246.53,149.00 247.00,150.00 C247.47,151.00 247.92,138.42 248.30,144.00 C248.68,149.58 248.98,182.50 249.30,183.50 C249.62,184.50 249.83,158.25 250.20,150.00 C250.57,141.75 251.08,137.73 251.50,134.00 C251.92,130.27 252.50,128.67 252.70,127.60 L253.30,148.82 L256.18,137.75 L257.11,150.54 L257.80,148.67 L258.50,159.30 L259.86,135.31 L260.88,136.65 L261.90,116.90 L262.90,140.27 L263.65,137.64 L264.40,157.00 L264.69,134.81 L264.91,136.25 L265.13,117.97 L265.92,140.60 L266.50,135.67 L267.09,154.64 L267.34,130.50 L267.52,132.09 L267.70,112.20 L270.50,107.70 L270.86,152.00 L272.03,112.36 L272.92,123.99 L273.80,90.50 L274.68,150.17 L277.89,151.75 L279.16,133.42 L279.57,150.87 L279.89,145.86 L280.20,160.60 L281.11,138.80 L281.80,139.61 L282.48,121.70 L284.28,154.29 L284.75,125.71 L285.11,125.34 L285.46,101.99 L285.85,128.21 L286.14,127.01 L286.43,148.57 L287.42,108.24 L288.16,116.77 L288.90,83.00 L289.16,145.57 L290.61,105.48 L291.62,149.43 L291.94,134.23 L292.17,136.90 L292.41,124.22 L293.16,148.51 L294.10,92.20 L295.30,156.80 L295.61,101.82 L296.16,132.98 L296.58,123.60 L296.99,149.95 L298.10,93.00 L299.21,149.78 L300.37,104.10 L301.50,146.17 L301.75,131.65 L301.94,135.96 L302.13,123.69 L302.40,137.78 L302.60,137.83 L302.79,149.36 L303.20,97.00 L303.97,130.14 L304.55,126.37 L305.13,153.82 L305.43,128.46 L305.66,133.29 L305.89,112.10 L306.50,153.08 L307.64,113.66 L307.80,158.00 L308.27,129.65 L308.62,126.96 L308.97,104.01 L309.30,94.34 L309.55,97.16 L309.80,89.00 L309.84,148.68 L311.60,133.80 L311.98,105.90 L312.26,114.16 L312.55,90.58 L312.90,108.61 L313.16,109.50 L313.42,124.18 L313.78,96.11 L314.05,104.30 L314.31,80.59 L314.59,105.49 L314.80,98.17 L315.01,119.21 L315.60,68.00 L315.99,95.41 L316.29,92.92 L316.58,115.57 L316.85,94.05 L317.05,96.51 L317.26,78.68 L318.05,121.37 L318.31,95.61 L318.50,99.55 L318.68,78.12 L319.30,112.52 L320.02,80.22 L320.59,107.54 L321.12,79.71 L321.51,86.60 L321.90,63.20 L321.94,103.41 L322.22,89.90 L322.44,89.33 L322.65,78.33 L323.38,104.22 L323.59,89.54 L323.74,92.15 L323.90,79.90 L324.18,94.88 L324.40,93.40 L324.61,105.79 L325.39,85.02 L326.10,104.00 L327.00,47.00 L327.70,96.00 L328.10,70.00 L328.30,110.00 L328.30,276.20" fill="none" stroke="#00b050" stroke-width="1.75" stroke-linejoin="round" stroke-linecap="round"/>
</g>
<g clip-path="url(#clipR)">
<path d="M416.80,102.30 C417.07,101.58 417.85,99.33 418.40,98.00 C418.95,96.67 419.63,94.92 420.10,94.30 C420.57,93.68 420.83,94.18 421.20,94.30 C421.57,94.42 421.97,95.22 422.30,95.00 C422.63,94.78 422.90,93.60 423.20,93.00 C423.50,92.40 423.75,91.07 424.10,91.40 C424.45,91.73 424.87,93.42 425.30,95.00 C425.73,96.58 426.25,99.23 426.70,100.90 C427.15,102.57 427.58,104.03 428.00,105.00 C428.42,105.97 428.77,106.95 429.20,106.70 C429.63,106.45 430.05,104.95 430.60,103.50 C431.15,102.05 431.70,101.12 432.50,98.00 C433.30,94.88 434.62,88.22 435.40,84.80 C436.18,81.38 436.70,79.32 437.20,77.50 C437.70,75.68 437.97,74.50 438.40,73.90 C438.83,73.30 439.40,73.22 439.80,73.90 C440.20,74.58 440.43,75.93 440.80,78.00 C441.17,80.07 441.43,82.97 442.00,86.30 C442.57,89.63 443.35,95.08 444.20,98.00 C445.05,100.92 446.30,102.50 447.10,103.80 C447.90,105.10 448.52,105.32 449.00,105.80 C449.48,106.28 449.58,106.78 450.00,106.70 C450.42,106.62 451.07,105.17 451.50,105.30 C451.93,105.43 452.23,106.60 452.60,107.50 C452.97,108.40 452.92,109.18 453.70,110.70 C454.48,112.22 456.45,114.72 457.30,116.60 C458.15,118.48 458.30,120.07 458.80,122.00 C459.30,123.93 459.80,127.00 460.30,128.20 C460.80,129.40 461.32,128.95 461.80,129.20 C462.28,129.45 462.70,129.10 463.20,129.70 C463.70,130.30 464.20,131.47 464.80,132.80 C465.40,134.13 466.23,136.17 466.80,137.70 C467.37,139.23 467.78,140.78 468.20,142.00 C468.62,143.22 468.87,145.17 469.30,145.00 C469.73,144.83 470.23,142.33 470.80,141.00 C471.37,139.67 471.92,138.20 472.70,137.00 C473.48,135.80 474.42,135.02 475.50,133.80 C476.58,132.58 478.03,130.97 479.20,129.70 C480.37,128.43 481.52,127.00 482.50,126.20 C483.48,125.40 484.27,124.83 485.10,124.90 C485.93,124.97 486.53,125.80 487.50,126.60 C488.47,127.40 489.98,129.37 490.90,129.70 C491.82,130.03 492.32,128.85 493.00,128.60 C493.68,128.35 494.40,127.97 495.00,128.20 C495.60,128.43 496.07,129.02 496.60,130.00 C497.13,130.98 497.55,132.77 498.20,134.10 C498.85,135.43 499.77,136.78 500.50,138.00 C501.23,139.22 501.98,139.98 502.60,141.40 C503.22,142.82 503.72,144.68 504.20,146.50 C504.68,148.32 505.12,150.72 505.50,152.30 C505.88,153.88 506.13,155.08 506.50,156.00 C506.87,156.92 507.10,157.32 507.70,157.80 C508.30,158.28 509.38,158.87 510.10,158.90 C510.82,158.93 511.38,158.32 512.00,158.00 C512.62,157.68 513.32,157.50 513.80,157.00 C514.28,156.50 514.55,155.48 514.90,155.00 C515.25,154.52 515.58,153.93 515.90,154.10 C516.22,154.27 516.48,155.40 516.80,156.00 C517.12,156.60 517.35,158.03 517.80,157.70 C518.25,157.37 518.95,154.97 519.50,154.00 C520.05,153.03 520.43,152.50 521.10,151.90 C521.77,151.30 522.65,150.88 523.50,150.40 C524.35,149.92 525.45,149.98 526.20,149.00 C526.95,148.02 527.40,146.08 528.00,144.50 C528.60,142.92 529.17,140.83 529.80,139.50 C530.43,138.17 531.18,137.12 531.80,136.50 C532.42,135.88 532.97,135.63 533.50,135.80 C534.03,135.97 534.52,136.77 535.00,137.50 C535.48,138.23 535.87,139.52 536.40,140.20 C536.93,140.88 537.60,141.12 538.20,141.60 C538.80,142.08 539.33,142.03 540.00,143.10 C540.67,144.17 541.47,146.28 542.20,148.00 C542.93,149.72 543.52,151.07 544.40,153.40 C545.28,155.73 546.52,159.38 547.50,162.00 C548.48,164.62 549.55,168.60 550.30,169.10 C551.05,169.60 551.40,166.40 552.00,165.00 C552.60,163.60 553.22,161.55 553.90,160.70 C554.58,159.85 555.50,159.68 556.10,159.90 C556.70,160.12 557.02,160.90 557.50,162.00 C557.98,163.10 558.45,164.58 559.00,166.50 C559.55,168.42 560.22,171.07 560.80,173.50 C561.38,175.93 561.92,178.55 562.50,181.10 C563.08,183.65 563.68,186.37 564.30,188.80 C564.92,191.23 565.65,193.90 566.20,195.70 C566.75,197.50 567.12,198.58 567.60,199.60 C568.08,200.62 568.45,201.23 569.10,201.80 C569.75,202.37 570.65,202.62 571.50,203.00 C572.35,203.38 573.45,204.17 574.20,204.10 C574.95,204.03 575.40,203.40 576.00,202.60 C576.60,201.80 577.20,200.73 577.80,199.30 C578.40,197.87 578.98,195.82 579.60,194.00 C580.22,192.18 580.90,190.03 581.50,188.40 C582.10,186.77 582.60,185.30 583.20,184.20 C583.80,183.10 584.47,182.17 585.10,181.80 C585.73,181.43 586.38,181.88 587.00,182.00 C587.62,182.12 588.25,182.23 588.80,182.50 C589.35,182.77 589.82,183.35 590.30,183.60 C590.78,183.85 591.22,184.00 591.70,184.00 C592.18,184.00 592.72,183.65 593.20,183.60 C593.68,183.55 594.07,183.30 594.60,183.70 C595.13,184.10 595.78,185.10 596.40,186.00 C597.02,186.90 597.38,187.85 598.30,189.10 C599.22,190.35 600.82,191.95 601.90,193.50 C602.98,195.05 603.82,196.78 604.80,198.40 C605.78,200.02 606.90,202.23 607.80,203.20 C608.70,204.17 609.35,203.95 610.20,204.20 C611.05,204.45 612.02,204.37 612.90,204.70 C613.78,205.03 614.65,205.63 615.50,206.20 C616.35,206.77 617.33,207.75 618.00,208.10 C618.67,208.45 619.02,208.30 619.50,208.30 C619.98,208.30 620.48,207.92 620.90,208.10 C621.32,208.28 621.63,209.03 622.00,209.40 C622.37,209.77 622.77,210.38 623.10,210.30 C623.43,210.22 623.68,209.27 624.00,208.90 C624.32,208.53 624.57,207.98 625.00,208.10 C625.43,208.22 626.07,209.12 626.60,209.60 C627.13,210.08 627.72,210.40 628.20,211.00 C628.68,211.60 629.02,212.47 629.50,213.20 C629.98,213.93 630.25,214.00 631.10,215.40 C631.95,216.80 633.78,220.37 634.60,221.60 C635.42,222.83 635.50,222.48 636.00,222.80 C636.50,223.12 636.73,223.27 637.60,223.50 C638.47,223.73 640.30,223.88 641.20,224.20 C642.10,224.52 642.38,224.92 643.00,225.40 C643.62,225.88 644.32,226.47 644.90,227.10 C645.48,227.73 646.02,228.63 646.50,229.20 C646.98,229.77 647.22,230.33 647.80,230.50 C648.38,230.67 648.97,230.30 650.00,230.20 C651.03,230.10 652.67,230.00 654.00,229.90 C655.33,229.80 656.67,229.62 658.00,229.60 C659.33,229.58 660.53,229.73 662.00,229.80 C663.47,229.87 665.30,229.90 666.80,230.00 C668.30,230.10 669.55,230.27 671.00,230.40 C672.45,230.53 674.00,230.77 675.50,230.80 C677.00,230.83 678.67,230.65 680.00,230.60 C681.33,230.55 682.92,230.52 683.50,230.50" fill="none" stroke="#ff0000" stroke-width="1.75" stroke-linejoin="round" stroke-linecap="round"/>
<path d="M416.80,96.50 C417.08,95.75 417.95,93.47 418.50,92.00 C419.05,90.53 419.62,88.83 420.10,87.70 C420.58,86.57 420.98,85.80 421.40,85.20 C421.82,84.60 422.23,84.13 422.60,84.10 C422.97,84.07 423.28,84.52 423.60,85.00 C423.92,85.48 424.17,85.83 424.50,87.00 C424.83,88.17 425.23,90.17 425.60,92.00 C425.97,93.83 426.27,96.17 426.70,98.00 C427.13,99.83 427.72,101.67 428.20,103.00 C428.68,104.33 429.13,105.83 429.60,106.00 C430.07,106.17 430.52,104.62 431.00,104.00 C431.48,103.38 431.77,102.77 432.50,102.30 C433.23,101.83 434.42,101.32 435.40,101.20 C436.38,101.08 437.42,101.42 438.40,101.60 C439.38,101.78 440.57,102.57 441.30,102.30 C442.03,102.03 442.32,100.97 442.80,100.00 C443.28,99.03 443.73,97.67 444.20,96.50 C444.67,95.33 445.17,93.85 445.60,93.00 C446.03,92.15 446.42,91.47 446.80,91.40 C447.18,91.33 447.55,92.00 447.90,92.60 C448.25,93.20 448.57,93.93 448.90,95.00 C449.23,96.07 449.58,97.65 449.90,99.00 C450.22,100.35 450.42,101.80 450.80,103.10 C451.18,104.40 451.72,105.62 452.20,106.80 C452.68,107.98 453.03,109.08 453.70,110.20 C454.37,111.32 455.35,112.57 456.20,113.50 C457.05,114.43 458.07,114.80 458.80,115.80 C459.53,116.80 460.00,118.28 460.60,119.50 C461.20,120.72 461.83,122.78 462.40,123.10 C462.97,123.42 463.50,121.83 464.00,121.40 C464.50,120.97 465.00,120.50 465.40,120.50 C465.80,120.50 466.08,120.97 466.40,121.40 C466.72,121.83 466.95,122.03 467.30,123.10 C467.65,124.17 468.10,126.33 468.50,127.80 C468.90,129.27 469.08,130.70 469.70,131.90 C470.32,133.10 471.33,134.15 472.20,135.00 C473.07,135.85 474.17,137.33 474.90,137.00 C475.63,136.67 476.00,134.22 476.60,133.00 C477.20,131.78 477.93,129.87 478.50,129.70 C479.07,129.53 479.52,131.15 480.00,132.00 C480.48,132.85 480.90,134.00 481.40,134.80 C481.90,135.60 482.43,136.32 483.00,136.80 C483.57,137.28 484.05,137.90 484.80,137.70 C485.55,137.50 486.53,136.45 487.50,135.60 C488.47,134.75 489.82,132.77 490.60,132.60 C491.38,132.43 491.67,133.92 492.20,134.60 C492.73,135.28 493.23,136.42 493.80,136.70 C494.37,136.98 494.98,136.50 495.60,136.30 C496.22,136.10 496.90,136.63 497.50,135.50 C498.10,134.37 498.60,131.68 499.20,129.50 C499.80,127.32 500.50,124.40 501.10,122.40 C501.70,120.40 502.27,118.72 502.80,117.50 C503.33,116.28 503.77,115.18 504.30,115.10 C504.83,115.02 505.38,116.02 506.00,117.00 C506.62,117.98 507.35,119.85 508.00,121.00 C508.65,122.15 509.32,123.57 509.90,123.90 C510.48,124.23 510.90,123.65 511.50,123.00 C512.10,122.35 512.67,121.42 513.50,120.00 C514.33,118.58 515.55,115.85 516.50,114.50 C517.45,113.15 518.37,111.82 519.20,111.90 C520.03,111.98 520.70,113.65 521.50,115.00 C522.30,116.35 523.15,118.45 524.00,120.00 C524.85,121.55 525.97,123.83 526.60,124.30 C527.23,124.77 527.38,123.22 527.80,122.80 C528.22,122.38 528.65,121.88 529.10,121.80 C529.55,121.72 530.02,122.20 530.50,122.30 C530.98,122.40 531.38,123.12 532.00,122.40 C532.62,121.68 533.47,119.50 534.20,118.00 C534.93,116.50 535.63,114.87 536.40,113.40 C537.17,111.93 538.00,110.18 538.80,109.20 C539.60,108.22 540.47,107.45 541.20,107.50 C541.93,107.55 542.55,108.52 543.20,109.50 C543.85,110.48 544.33,111.73 545.10,113.40 C545.87,115.07 546.93,117.57 547.80,119.50 C548.67,121.43 549.37,123.28 550.30,125.00 C551.23,126.72 552.38,128.28 553.40,129.80 C554.42,131.32 555.67,133.90 556.40,134.10 C557.13,134.30 557.32,131.90 557.80,131.00 C558.28,130.10 558.83,129.20 559.30,128.70 C559.77,128.20 560.17,128.08 560.60,128.00 C561.03,127.92 561.32,127.87 561.90,128.20 C562.48,128.53 563.37,129.43 564.10,130.00 C564.83,130.57 565.62,131.17 566.30,131.60 C566.98,132.03 567.58,132.28 568.20,132.60 C568.82,132.92 569.17,134.27 570.00,133.50 C570.83,132.73 572.12,129.90 573.20,128.00 C574.28,126.10 575.60,123.53 576.50,122.10 C577.40,120.67 577.92,120.25 578.60,119.40 C579.28,118.55 580.07,117.87 580.60,117.00 C581.13,116.13 581.43,114.93 581.80,114.20 C582.17,113.47 582.33,112.67 582.80,112.60 C583.27,112.53 583.93,113.18 584.60,113.80 C585.27,114.42 586.03,114.85 586.80,116.30 C587.57,117.75 588.35,120.32 589.20,122.50 C590.05,124.68 590.93,127.38 591.90,129.40 C592.87,131.42 593.97,132.95 595.00,134.60 C596.03,136.25 597.10,137.90 598.10,139.30 C599.10,140.70 600.02,141.83 601.00,143.00 C601.98,144.17 603.20,145.47 604.00,146.30 C604.80,147.13 605.20,147.52 605.80,148.00 C606.40,148.48 607.00,149.37 607.60,149.20 C608.20,149.03 608.78,147.78 609.40,147.00 C610.02,146.22 610.77,145.07 611.30,144.50 C611.83,143.93 612.17,143.78 612.60,143.60 C613.03,143.42 613.47,143.33 613.90,143.40 C614.33,143.47 614.78,143.77 615.20,144.00 C615.62,144.23 615.97,144.38 616.40,144.80 C616.83,145.22 617.37,146.02 617.80,146.50 C618.23,146.98 618.53,147.75 619.00,147.70 C619.47,147.65 620.07,146.68 620.60,146.20 C621.13,145.72 621.38,145.30 622.20,144.80 C623.02,144.30 624.40,143.63 625.50,143.20 C626.60,142.77 627.80,142.42 628.80,142.20 C629.80,141.98 630.65,141.95 631.50,141.90 C632.35,141.85 633.15,141.82 633.90,141.90 C634.65,141.98 635.27,142.15 636.00,142.40 C636.73,142.65 637.63,142.90 638.30,143.40 C638.97,143.90 639.40,144.73 640.00,145.40 C640.60,146.07 641.23,146.87 641.90,147.40 C642.57,147.93 643.27,148.18 644.00,148.60 C644.73,149.02 645.67,149.30 646.30,149.90 C646.93,150.50 647.32,151.47 647.80,152.20 C648.28,152.93 648.67,153.70 649.20,154.30 C649.73,154.90 650.38,155.32 651.00,155.80 C651.62,156.28 652.30,156.63 652.90,157.20 C653.50,157.77 654.00,158.47 654.60,159.20 C655.20,159.93 655.80,160.63 656.50,161.60 C657.20,162.57 658.05,163.87 658.80,165.00 C659.55,166.13 660.10,166.82 661.00,168.40 C661.90,169.98 663.12,172.50 664.20,174.50 C665.28,176.50 666.43,178.78 667.50,180.40 C668.57,182.02 669.52,182.98 670.60,184.20 C671.68,185.42 672.68,186.40 674.00,187.70 C675.32,189.00 676.92,190.53 678.50,192.00 C680.08,193.47 682.67,195.75 683.50,196.50" fill="none" stroke="#4472c4" stroke-width="1.75" stroke-linejoin="round" stroke-linecap="round"/>
<path d="M416.80,168.30 C417.00,168.12 417.57,167.78 418.00,167.20 C418.43,166.62 418.98,165.92 419.40,164.80 C419.82,163.68 420.13,161.95 420.50,160.50 C420.87,159.05 421.22,157.02 421.60,156.10 C421.98,155.18 422.43,155.13 422.80,155.00 C423.17,154.87 423.40,154.38 423.80,155.30 C424.20,156.22 424.72,158.55 425.20,160.50 C425.68,162.45 426.20,165.92 426.70,167.00 C427.20,168.08 427.72,167.12 428.20,167.00 C428.68,166.88 429.05,166.70 429.60,166.30 C430.15,165.90 430.90,165.08 431.50,164.60 C432.10,164.12 432.62,163.33 433.20,163.40 C433.78,163.47 434.38,164.40 435.00,165.00 C435.62,165.60 436.30,166.17 436.90,167.00 C437.50,167.83 438.00,169.03 438.60,170.00 C439.20,170.97 439.83,172.83 440.50,172.80 C441.17,172.77 441.87,170.77 442.60,169.80 C443.33,168.83 444.27,167.38 444.90,167.00 C445.53,166.62 445.92,167.70 446.40,167.50 C446.88,167.30 447.32,166.30 447.80,165.80 C448.28,165.30 448.73,164.20 449.30,164.50 C449.87,164.80 450.55,166.53 451.20,167.60 C451.85,168.67 452.60,170.70 453.20,170.90 C453.80,171.10 454.23,169.45 454.80,168.80 C455.37,168.15 456.00,166.87 456.60,167.00 C457.20,167.13 457.78,168.63 458.40,169.60 C459.02,170.57 459.53,173.17 460.30,172.80 C461.07,172.43 462.08,169.10 463.00,167.40 C463.92,165.70 464.88,162.50 465.80,162.60 C466.72,162.70 467.60,166.05 468.50,168.00 C469.40,169.95 470.45,172.83 471.20,174.30 C471.95,175.77 472.38,176.15 473.00,176.80 C473.62,177.45 474.27,178.57 474.90,178.20 C475.53,177.83 476.20,175.90 476.80,174.60 C477.40,173.30 477.97,170.93 478.50,170.40 C479.03,169.87 479.52,171.17 480.00,171.40 C480.48,171.63 480.90,172.37 481.40,171.80 C481.90,171.23 482.43,169.28 483.00,168.00 C483.57,166.72 484.28,164.47 484.80,164.10 C485.32,163.73 485.68,165.32 486.10,165.80 C486.52,166.28 486.82,167.07 487.30,167.00 C487.78,166.93 488.40,165.82 489.00,165.40 C489.60,164.98 490.37,164.47 490.90,164.50 C491.43,164.53 491.78,165.25 492.20,165.60 C492.62,165.95 492.93,167.37 493.40,166.60 C493.87,165.83 494.43,163.00 495.00,161.00 C495.57,159.00 496.13,156.57 496.80,154.60 C497.47,152.63 498.28,150.90 499.00,149.20 C499.72,147.50 500.47,145.93 501.10,144.40 C501.73,142.87 502.27,141.12 502.80,140.00 C503.33,138.88 503.80,137.87 504.30,137.70 C504.80,137.53 505.22,138.03 505.80,139.00 C506.38,139.97 507.08,142.20 507.80,143.50 C508.52,144.80 509.40,146.52 510.10,146.80 C510.80,147.08 511.27,145.97 512.00,145.20 C512.73,144.43 513.60,143.15 514.50,142.20 C515.40,141.25 516.48,140.30 517.40,139.50 C518.32,138.70 519.15,137.97 520.00,137.40 C520.85,136.83 521.77,136.07 522.50,136.10 C523.23,136.13 523.78,136.92 524.40,137.60 C525.02,138.28 525.70,139.17 526.20,140.20 C526.70,141.23 527.03,142.70 527.40,143.80 C527.77,144.90 527.88,146.20 528.40,146.80 C528.92,147.40 529.78,147.33 530.50,147.40 C531.22,147.47 532.03,147.85 532.70,147.20 C533.37,146.55 533.88,144.90 534.50,143.50 C535.12,142.10 535.72,140.45 536.40,138.80 C537.08,137.15 537.87,135.07 538.60,133.60 C539.33,132.13 540.07,130.13 540.80,130.00 C541.53,129.87 542.28,131.58 543.00,132.80 C543.72,134.02 544.20,135.87 545.10,137.30 C546.00,138.73 547.30,140.07 548.40,141.40 C549.50,142.73 550.67,143.62 551.70,145.30 C552.73,146.98 553.62,149.30 554.60,151.50 C555.58,153.70 556.73,156.45 557.60,158.50 C558.47,160.55 559.08,162.10 559.80,163.80 C560.52,165.50 561.28,167.27 561.90,168.70 C562.52,170.13 563.00,171.55 563.50,172.40 C564.00,173.25 564.35,174.20 564.90,173.80 C565.45,173.40 566.08,171.58 566.80,170.00 C567.52,168.42 568.43,165.67 569.20,164.30 C569.97,162.93 570.67,162.53 571.40,161.80 C572.13,161.07 572.75,160.77 573.60,159.90 C574.45,159.03 575.52,157.68 576.50,156.60 C577.48,155.52 578.42,154.27 579.50,153.40 C580.58,152.53 581.78,151.90 583.00,151.40 C584.22,150.90 585.72,150.47 586.80,150.40 C587.88,150.33 588.58,150.60 589.50,151.00 C590.42,151.40 591.52,152.05 592.30,152.80 C593.08,153.55 593.60,154.52 594.20,155.50 C594.80,156.48 595.33,157.68 595.90,158.70 C596.47,159.72 596.98,160.65 597.60,161.60 C598.22,162.55 598.70,163.30 599.60,164.40 C600.50,165.50 601.78,166.98 603.00,168.20 C604.22,169.42 605.73,170.82 606.90,171.70 C608.07,172.58 608.90,172.97 610.00,173.50 C611.10,174.03 612.60,174.72 613.50,174.90 C614.40,175.08 614.80,174.77 615.40,174.60 C616.00,174.43 616.47,173.80 617.10,173.90 C617.73,174.00 618.47,174.83 619.20,175.20 C619.93,175.57 620.80,175.93 621.50,176.10 C622.20,176.27 622.80,176.20 623.40,176.20 C624.00,176.20 624.37,176.40 625.10,176.10 C625.83,175.80 626.93,175.02 627.80,174.40 C628.67,173.78 629.57,172.93 630.30,172.40 C631.03,171.87 631.60,171.45 632.20,171.20 C632.80,170.95 633.20,170.85 633.90,170.90 C634.60,170.95 635.55,171.18 636.40,171.50 C637.25,171.82 638.07,172.25 639.00,172.80 C639.93,173.35 641.02,174.02 642.00,174.80 C642.98,175.58 644.07,176.47 644.90,177.50 C645.73,178.53 646.28,179.78 647.00,181.00 C647.72,182.22 648.53,183.67 649.20,184.80 C649.87,185.93 650.38,186.82 651.00,187.80 C651.62,188.78 652.30,189.92 652.90,190.70 C653.50,191.48 654.00,191.90 654.60,192.50 C655.20,193.10 655.83,193.48 656.50,194.30 C657.17,195.12 657.87,196.30 658.60,197.40 C659.33,198.50 660.08,199.60 660.90,200.90 C661.72,202.20 662.65,203.87 663.50,205.20 C664.35,206.53 665.33,207.73 666.00,208.90 C666.67,210.07 666.73,211.05 667.50,212.20 C668.27,213.35 669.52,214.65 670.60,215.80 C671.68,216.95 672.68,217.77 674.00,219.10 C675.32,220.43 676.92,222.22 678.50,223.80 C680.08,225.38 682.67,227.80 683.50,228.60" fill="none" stroke="#00b050" stroke-width="1.75" stroke-linejoin="round" stroke-linecap="round"/>
</g>
<rect x="61.60" y="5.40" width="267.90" height="270.80" fill="none" stroke="#2a2a2a" stroke-width="1.35"/>
<rect x="416.80" y="4.80" width="267.20" height="264.50" fill="none" stroke="#2a2a2a" stroke-width="1.35"/>
<text x="50.60" y="9.30" font-size="10.5" fill="#262626" text-anchor="end">1000</text>
<text x="50.60" y="99.57" font-size="10.5" fill="#262626" text-anchor="end">100</text>
<text x="50.60" y="189.83" font-size="10.5" fill="#262626" text-anchor="end">10</text>
<text x="50.60" y="280.10" font-size="10.5" fill="#262626" text-anchor="end">1</text>
<text x="61.60" y="296.10" font-size="10.5" fill="#262626" text-anchor="middle">0.1</text>
<text x="178.03" y="296.10" font-size="10.5" fill="#262626" text-anchor="middle">1</text>
<text x="294.45" y="296.10" font-size="10.5" fill="#262626" text-anchor="middle">10</text>
<text x="406.20" y="8.70" font-size="10.5" fill="#262626" text-anchor="end">1000</text>
<text x="406.20" y="96.87" font-size="10.5" fill="#262626" text-anchor="end">100</text>
<text x="406.20" y="185.03" font-size="10.5" fill="#262626" text-anchor="end">10</text>
<text x="406.20" y="273.20" font-size="10.5" fill="#262626" text-anchor="end">1</text>
<text x="416.80" y="288.60" font-size="10.5" fill="#262626" text-anchor="middle">0.1</text>
<text x="532.92" y="288.60" font-size="10.5" fill="#262626" text-anchor="middle">1</text>
<text x="649.04" y="288.60" font-size="10.5" fill="#262626" text-anchor="middle">10</text>
<text x="152.60" y="317.40" font-size="12.4" fill="#262626" text-anchor="start" textLength="84.60" lengthAdjust="spacingAndGlyphs">Frequency (Hz)</text>
<text x="522.90" y="310.30" font-size="12.4" fill="#262626" text-anchor="start" textLength="53.60" lengthAdjust="spacingAndGlyphs">Period (s)</text>
<text x="10.90" y="201.50" font-size="12.4" fill="#262626" text-anchor="start" textLength="125.80" lengthAdjust="spacingAndGlyphs" transform="rotate(-90 10.90 201.50)">Fourier Spectra (cm/s)</text>
<text x="366.00" y="169.60" font-size="12.4" fill="#262626" text-anchor="start" textLength="93.90" lengthAdjust="spacingAndGlyphs" transform="rotate(-90 366.00 169.60)">pSv (cm/s;h=5%)</text>
<line x1="227.6" x2="247.9" y1="340" y2="340" stroke="#ff0000" stroke-width="1.8" stroke-linecap="round"/><text x="251.00" y="343.90" font-size="11.6" fill="#262626" text-anchor="start" textLength="72.80" lengthAdjust="spacingAndGlyphs">CASE-VScr_NS</text>
<line x1="340.0" x2="361.0" y1="340" y2="340" stroke="#4472c4" stroke-width="1.8" stroke-linecap="round"/><text x="363.20" y="343.90" font-size="11.6" fill="#262626" text-anchor="start" textLength="76.80" lengthAdjust="spacingAndGlyphs">CASE-VScr_EW</text>
<line x1="455.0" x2="475.4" y1="340" y2="340" stroke="#00b050" stroke-width="1.8" stroke-linecap="round"/><text x="477.50" y="343.90" font-size="11.6" fill="#262626" text-anchor="start" textLength="75.50" lengthAdjust="spacingAndGlyphs">CASE-VScr_UD</text>
</svg>
</body>
</html>
